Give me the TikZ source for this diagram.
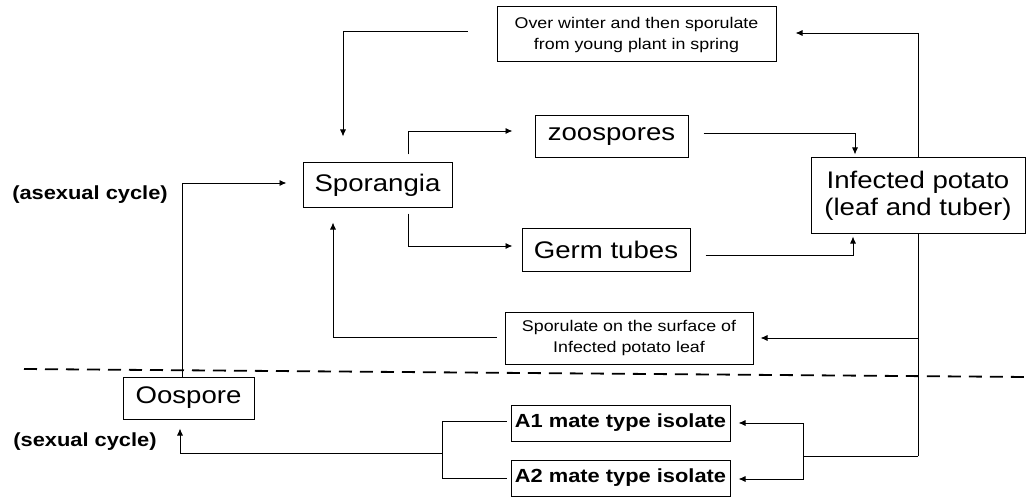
\documentclass[tikz,border=0pt]{standalone}
\usepackage{fontspec}
\setmainfont{Liberation Sans}[FakeStretch=1.15]
\usetikzlibrary{arrows.meta,calc}
\tikzset{
  box/.style={draw, line width=1pt, fill=white, inner sep=0pt, align=center},
  bigtext/.style={font=\fontsize{24}{27}\selectfont},
  smalltext/.style={font=\fontsize{15.5}{21}\selectfont},
  boldtext/.style={font=\bfseries\fontsize{19}{22}\selectfont},
  conn/.style={line width=0.9pt},
  arr/.style={line width=0.9pt, -{Latex[length=7pt,width=6pt]}},
  divider/.style={line width=1.8pt, dash pattern=on 13pt off 8pt}
}
\begin{document}
\begin{tikzpicture}[x=1pt,y=-1pt]
\useasboundingbox (0,0) rectangle (1027,497);
% divider
\coordinate (dl) at (24,369);
\coordinate (dr) at (1027,377);
\draw[divider] (dl) -- (dr);
% right trunk (behind infected box)
\coordinate (ttop) at (918,33);
\coordinate (tbot) at (918,456);
\draw[conn] (ttop) -- (tbot);
% nodes
\node[box,smalltext,minimum width=279,minimum height=55] (over) at (636.5,34.5) {Over winter and then sporulate\\from young plant in spring};
\node[box,bigtext,minimum width=153,minimum height=42] (zoo) at (611.5,137) {zoospores};
\node[box,bigtext,minimum width=149,minimum height=44] (spor) at (377.5,185) {Sporangia};
\node[box,bigtext,minimum width=168,minimum height=43] (germ) at (606,249.5) {Germ tubes};
\node[box,bigtext,minimum width=214,minimum height=75] (inf) at (918,195.5) {Infected potato\\(leaf and tuber)};
\node[box,smalltext,minimum width=248,minimum height=52] (sporul) at (629,338) {Sporulate on the surface of\\Infected potato leaf};
\node[box,bigtext,minimum width=131,minimum height=42] (oo) at (188.5,398) {Oospore};
\node[box,boldtext,minimum width=219,minimum height=36] (a1) at (620.5,423) {A1 mate type isolate};
\node[box,boldtext,minimum width=219,minimum height=36] (a2) at (620.5,478) {A2 mate type isolate};
\node[boldtext,inner sep=0pt] (asex) at (90,195) {(asexual cycle)};
\node[boldtext,inner sep=0pt] (sex) at (85,442) {(sexual cycle)};
% over -> sporangia
\draw[arr] ($(over.west)+(-29,-3)$) -| ($(spor.north)+(-34.5,-26)$);
% trunk -> over
\draw[arr] (ttop) -- ($(over.east)+(19,-1.5)$);
% sporangia -> zoospores
\draw[arr] ($(spor.north)+(30.5,-8)$) |- ($(zoo.west)+(-22,-6)$);
% sporangia -> germ tubes
\draw[arr] ($(spor.south)+(30.5,6)$) |- ($(germ.west)+(-9,-3.5)$);
% zoospores -> infected
\draw[arr] ($(zoo.east)+(15,-4)$) -| ($(inf.north)+(-63,-3)$);
% germ tubes -> infected
\draw[arr] ($(germ.east)+(15,5.5)$) -| ($(inf.south)+(-65,3)$);
% trunk -> sporulate
\coordinate (tspor) at (918,338);
\draw[arr] (tspor) -- ($(sporul.east)+(7,0)$);
% sporulate -> sporangia
\draw[arr] ($(sporul.west)+(-8,-1)$) -| ($(spor.south)+(-44.5,15)$);
% oospore -> sporangia
\draw[arr] (oo.north -| 182,0) |- ($(spor.west)+(-16,-2)$);
% trunk -> A1, A2
\coordinate (abr) at (803,456);
\draw[conn] (tbot) -- (abr);
\draw[arr] (abr) |- ($(a1.east)+(8,0)$);
\draw[arr] (abr) |- ($(a2.east)+(8,1)$);
% A1, A2 -> oospore
\coordinate (lbr) at (442,453);
\draw[conn] ($(a1.west)+(-4,-2)$) -| (lbr);
\draw[conn] ($(a2.west)+(-4,0)$) -| (lbr);
\draw[arr] (lbr) -| ($(oo.south)+(-8.5,9)$);
\end{tikzpicture}
\end{document}
